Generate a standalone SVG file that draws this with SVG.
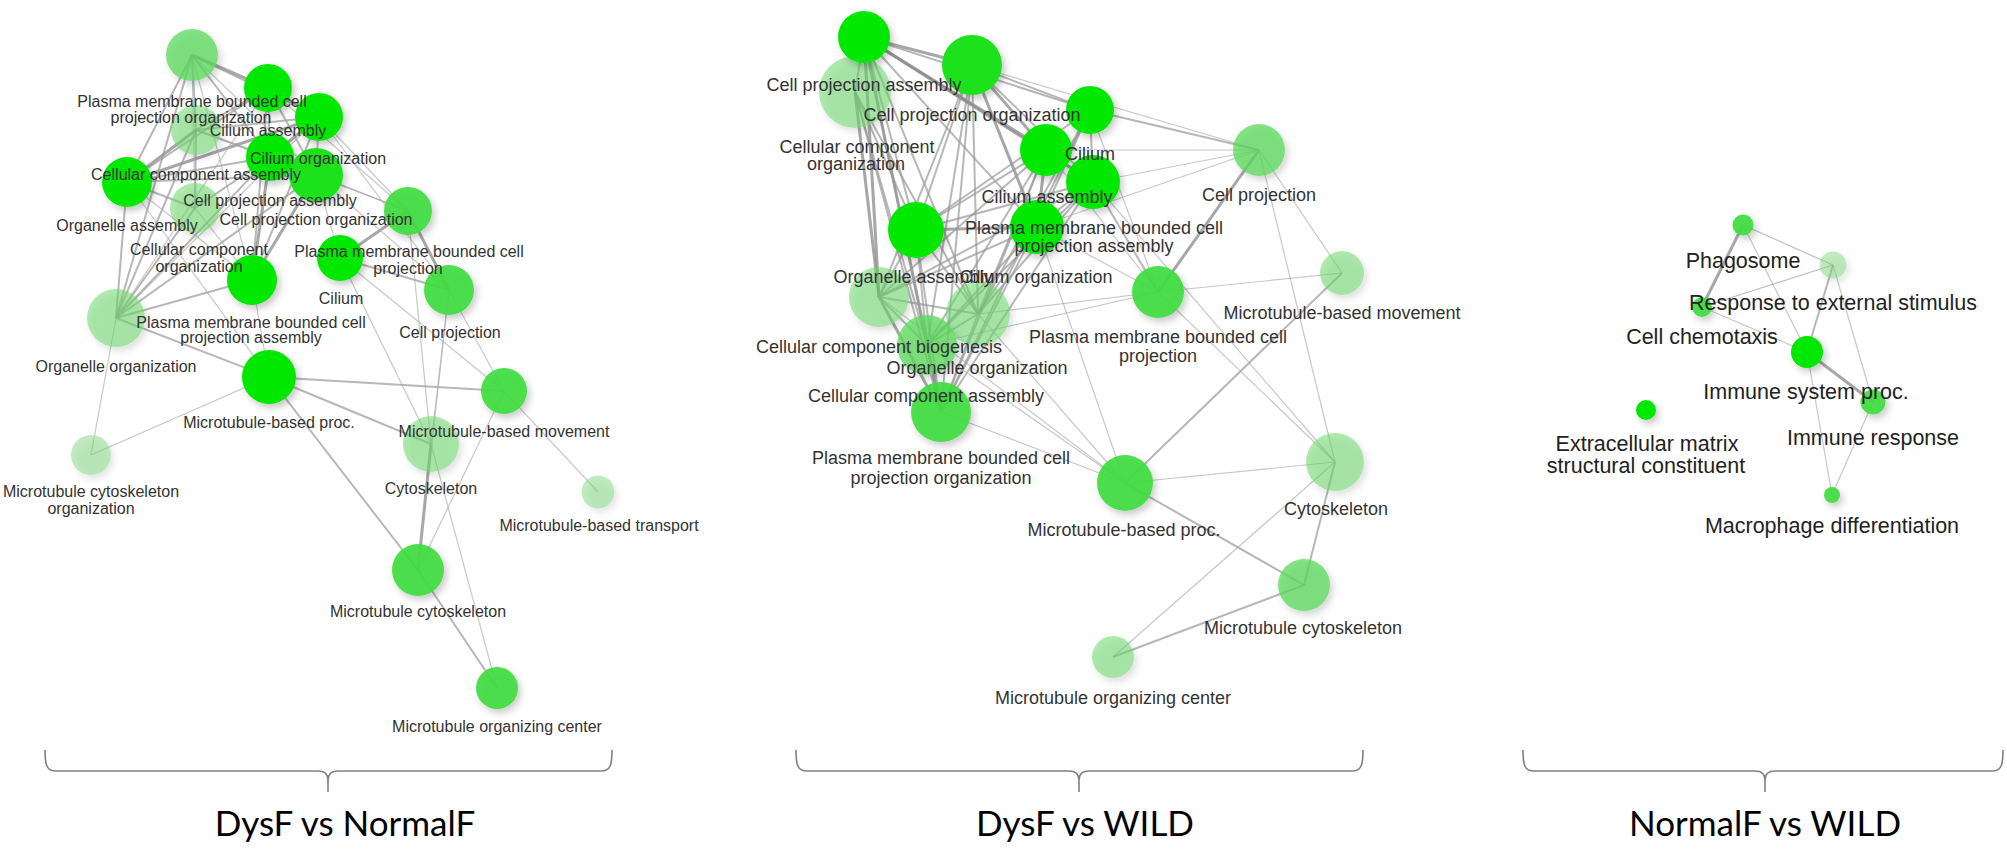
<svg xmlns="http://www.w3.org/2000/svg" width="2007" height="849" viewBox="0 0 2007 849">
<style>
.e1{stroke:#8a8a8a;stroke-width:3;stroke-opacity:.75;fill:none}
.e2{stroke:#999;stroke-width:2;stroke-opacity:.7;fill:none}
.e3{stroke:#aaa;stroke-width:1.2;stroke-opacity:.65;fill:none}
.c1{fill:#00e800}
.c2{fill:#1ee21e}
.c3{fill:#3fdc3f;fill-opacity:.92}
.c4{fill:#5cd95c;fill-opacity:.75}
.c5{fill:#6fd86f;fill-opacity:.55}
.c6{fill:#7ad87a;fill-opacity:.45}
.node circle{filter:url(#sh)}
.t{font-family:"Liberation Sans",Arial,sans-serif;fill:#333;text-anchor:middle}
.tl{font-size:16px}
.tm{font-size:18px}
.tr{font-size:21.5px;fill:#222}
.tb{font-family:Lato,"Liberation Sans",sans-serif;font-size:35px;fill:#000;text-anchor:middle}
.br{stroke:#808080;stroke-width:1.6;fill:none}
</style>
<defs>
<filter id="sh" x="-50%" y="-50%" width="200%" height="200%">
<feDropShadow dx="3" dy="4" stdDeviation="3.5" flood-color="#000" flood-opacity="0.22"/>
</filter>
</defs>
<rect width="2007" height="849" fill="#fff"/>

<g id="connectors">
<!-- left panel -->
<g id="edges-left">
<line class="e1" x1="192" y1="55" x2="268" y2="88"/>
<line class="e1" x1="268" y1="88" x2="319" y2="117"/>
<line class="e1" x1="319" y1="117" x2="270" y2="157"/>
<line class="e1" x1="270" y1="157" x2="316" y2="175"/>
<line class="e1" x1="196" y1="130" x2="127" y2="182"/>
<line class="e1" x1="319" y1="117" x2="127" y2="182"/>
<line class="e1" x1="270" y1="157" x2="252" y2="280"/>
<line class="e1" x1="316" y1="175" x2="252" y2="280"/>
<line class="e1" x1="408" y1="211" x2="340" y2="258"/>
<line class="e1" x1="408" y1="211" x2="449" y2="290"/>
<line class="e1" x1="431" y1="444" x2="418" y2="570"/>
<line class="e2" x1="192" y1="55" x2="319" y2="117"/>
<line class="e2" x1="192" y1="55" x2="196" y2="130"/>
<line class="e2" x1="192" y1="55" x2="270" y2="157"/>
<line class="e2" x1="192" y1="55" x2="127" y2="182"/>
<line class="e2" x1="192" y1="55" x2="116" y2="318"/>
<line class="e2" x1="268" y1="88" x2="270" y2="157"/>
<line class="e2" x1="268" y1="88" x2="316" y2="175"/>
<line class="e2" x1="268" y1="88" x2="196" y2="130"/>
<line class="e2" x1="268" y1="88" x2="127" y2="182"/>
<line class="e2" x1="268" y1="88" x2="252" y2="280"/>
<line class="e2" x1="319" y1="117" x2="316" y2="175"/>
<line class="e2" x1="319" y1="117" x2="196" y2="130"/>
<line class="e2" x1="319" y1="117" x2="252" y2="280"/>
<line class="e2" x1="196" y1="130" x2="195" y2="208"/>
<line class="e2" x1="196" y1="130" x2="270" y2="157"/>
<line class="e2" x1="196" y1="130" x2="116" y2="318"/>
<line class="e2" x1="270" y1="157" x2="127" y2="182"/>
<line class="e2" x1="270" y1="157" x2="195" y2="208"/>
<line class="e2" x1="316" y1="175" x2="127" y2="182"/>
<line class="e2" x1="127" y1="182" x2="195" y2="208"/>
<line class="e2" x1="127" y1="182" x2="116" y2="318"/>
<line class="e2" x1="195" y1="208" x2="116" y2="318"/>
<line class="e2" x1="270" y1="157" x2="116" y2="318"/>
<line class="e2" x1="316" y1="175" x2="116" y2="318"/>
<line class="e2" x1="252" y1="280" x2="116" y2="318"/>
<line class="e2" x1="116" y1="318" x2="269" y2="377"/>
<line class="e2" x1="269" y1="377" x2="504" y2="391"/>
<line class="e2" x1="269" y1="377" x2="431" y2="444"/>
<line class="e2" x1="269" y1="377" x2="418" y2="570"/>
<line class="e2" x1="340" y1="258" x2="449" y2="290"/>
<line class="e2" x1="418" y1="570" x2="497" y2="688"/>
<line class="e3" x1="192" y1="55" x2="316" y2="175"/>
<line class="e3" x1="192" y1="55" x2="195" y2="208"/>
<line class="e3" x1="192" y1="55" x2="252" y2="280"/>
<line class="e3" x1="319" y1="117" x2="408" y2="211"/>
<line class="e3" x1="316" y1="175" x2="408" y2="211"/>
<line class="e3" x1="316" y1="175" x2="340" y2="258"/>
<line class="e3" x1="195" y1="208" x2="252" y2="280"/>
<line class="e3" x1="268" y1="88" x2="116" y2="318"/>
<line class="e3" x1="319" y1="117" x2="116" y2="318"/>
<line class="e3" x1="127" y1="182" x2="269" y2="377"/>
<line class="e3" x1="116" y1="318" x2="91" y2="455"/>
<line class="e3" x1="269" y1="377" x2="91" y2="455"/>
<line class="e3" x1="269" y1="377" x2="252" y2="280"/>
<line class="e3" x1="340" y1="258" x2="431" y2="444"/>
<line class="e3" x1="340" y1="258" x2="504" y2="391"/>
<line class="e3" x1="408" y1="211" x2="431" y2="444"/>
<line class="e3" x1="449" y1="290" x2="504" y2="391"/>
<line class="e3" x1="449" y1="290" x2="431" y2="444"/>
<line class="e3" x1="449" y1="290" x2="418" y2="570"/>
<line class="e3" x1="504" y1="391" x2="418" y2="570"/>
<line class="e3" x1="504" y1="391" x2="598" y2="492"/>
<line class="e3" x1="431" y1="444" x2="497" y2="688"/>
<line class="e3" x1="316" y1="175" x2="449" y2="290"/>
<line class="e3" x1="270" y1="157" x2="408" y2="211"/>
<line class="e3" x1="196" y1="130" x2="408" y2="211"/>
<line class="e3" x1="127" y1="182" x2="252" y2="280"/>
<line class="e3" x1="268" y1="88" x2="408" y2="211"/>
<line class="e3" x1="319" y1="117" x2="449" y2="290"/>
</g>
<!-- middle panel -->
<g id="edges-middle">
<line class="e1" x1="864" y1="37" x2="1046" y2="150"/>
<line class="e1" x1="864" y1="37" x2="1093" y2="182"/>
<line class="e1" x1="864" y1="37" x2="972" y2="65"/>
<line class="e1" x1="972" y1="65" x2="1046" y2="150"/>
<line class="e1" x1="916" y1="230" x2="1037" y2="227"/>
<line class="e1" x1="879" y1="297" x2="941" y2="412"/>
<line class="e1" x1="864" y1="37" x2="941" y2="412"/>
<line class="e1" x1="855" y1="92" x2="879" y2="297"/>
<line class="e1" x1="864" y1="37" x2="879" y2="297"/>
<line class="e1" x1="972" y1="65" x2="1037" y2="227"/>
<line class="e1" x1="1046" y1="150" x2="1037" y2="227"/>
<line class="e1" x1="1158" y1="292" x2="1259" y2="150"/>
<line class="e2" x1="1090" y1="110" x2="1259" y2="150"/>
<line class="e2" x1="1093" y1="182" x2="1158" y2="292"/>
<line class="e2" x1="864" y1="37" x2="855" y2="92"/>
<line class="e2" x1="864" y1="37" x2="1090" y2="110"/>
<line class="e2" x1="864" y1="37" x2="916" y2="230"/>
<line class="e2" x1="864" y1="37" x2="1037" y2="227"/>
<line class="e2" x1="864" y1="37" x2="978" y2="314"/>
<line class="e2" x1="864" y1="37" x2="927" y2="345"/>
<line class="e2" x1="855" y1="92" x2="916" y2="230"/>
<line class="e2" x1="855" y1="92" x2="927" y2="345"/>
<line class="e2" x1="855" y1="92" x2="941" y2="412"/>
<line class="e2" x1="855" y1="92" x2="978" y2="314"/>
<line class="e2" x1="972" y1="65" x2="1090" y2="110"/>
<line class="e2" x1="972" y1="65" x2="1093" y2="182"/>
<line class="e2" x1="972" y1="65" x2="916" y2="230"/>
<line class="e2" x1="972" y1="65" x2="879" y2="297"/>
<line class="e2" x1="972" y1="65" x2="978" y2="314"/>
<line class="e2" x1="972" y1="65" x2="941" y2="412"/>
<line class="e2" x1="972" y1="65" x2="927" y2="345"/>
<line class="e2" x1="1090" y1="110" x2="1093" y2="182"/>
<line class="e2" x1="1090" y1="110" x2="1037" y2="227"/>
<line class="e2" x1="1090" y1="110" x2="916" y2="230"/>
<line class="e2" x1="1090" y1="110" x2="941" y2="412"/>
<line class="e2" x1="1090" y1="110" x2="978" y2="314"/>
<line class="e2" x1="1046" y1="150" x2="1093" y2="182"/>
<line class="e2" x1="1046" y1="150" x2="916" y2="230"/>
<line class="e2" x1="1046" y1="150" x2="879" y2="297"/>
<line class="e2" x1="1046" y1="150" x2="978" y2="314"/>
<line class="e2" x1="1046" y1="150" x2="927" y2="345"/>
<line class="e2" x1="1046" y1="150" x2="941" y2="412"/>
<line class="e2" x1="1093" y1="182" x2="916" y2="230"/>
<line class="e2" x1="1093" y1="182" x2="1037" y2="227"/>
<line class="e2" x1="1093" y1="182" x2="879" y2="297"/>
<line class="e2" x1="1093" y1="182" x2="978" y2="314"/>
<line class="e2" x1="1093" y1="182" x2="927" y2="345"/>
<line class="e2" x1="1093" y1="182" x2="941" y2="412"/>
<line class="e2" x1="916" y1="230" x2="879" y2="297"/>
<line class="e2" x1="916" y1="230" x2="978" y2="314"/>
<line class="e2" x1="916" y1="230" x2="927" y2="345"/>
<line class="e2" x1="916" y1="230" x2="941" y2="412"/>
<line class="e2" x1="1037" y1="227" x2="879" y2="297"/>
<line class="e2" x1="1037" y1="227" x2="978" y2="314"/>
<line class="e2" x1="1037" y1="227" x2="927" y2="345"/>
<line class="e2" x1="1037" y1="227" x2="941" y2="412"/>
<line class="e2" x1="879" y1="297" x2="978" y2="314"/>
<line class="e2" x1="879" y1="297" x2="927" y2="345"/>
<line class="e2" x1="978" y1="314" x2="927" y2="345"/>
<line class="e2" x1="978" y1="314" x2="941" y2="412"/>
<line class="e2" x1="927" y1="345" x2="941" y2="412"/>
<line class="e2" x1="1125" y1="483" x2="1342" y2="273"/>
<line class="e2" x1="1125" y1="483" x2="1304" y2="585"/>
<line class="e2" x1="1304" y1="585" x2="1335" y2="462"/>
<line class="e2" x1="1304" y1="585" x2="1113" y2="657"/>
<line class="e3" x1="972" y1="65" x2="1259" y2="150"/>
<line class="e3" x1="1037" y1="227" x2="1259" y2="150"/>
<line class="e3" x1="1046" y1="150" x2="1259" y2="150"/>
<line class="e3" x1="1093" y1="182" x2="1259" y2="150"/>
<line class="e3" x1="1158" y1="292" x2="1342" y2="273"/>
<line class="e3" x1="1259" y1="150" x2="1342" y2="273"/>
<line class="e3" x1="1259" y1="150" x2="1335" y2="462"/>
<line class="e3" x1="1158" y1="292" x2="1335" y2="462"/>
<line class="e3" x1="1093" y1="182" x2="1335" y2="462"/>
<line class="e3" x1="1125" y1="483" x2="1335" y2="462"/>
<line class="e3" x1="1113" y1="657" x2="1335" y2="462"/>
<line class="e3" x1="941" y1="412" x2="1125" y2="483"/>
<line class="e3" x1="978" y1="314" x2="1125" y2="483"/>
<line class="e3" x1="1037" y1="227" x2="1125" y2="483"/>
<line class="e3" x1="927" y1="345" x2="1125" y2="483"/>
<line class="e3" x1="879" y1="297" x2="1125" y2="483"/>
<line class="e3" x1="1037" y1="227" x2="1158" y2="292"/>
<line class="e3" x1="1046" y1="150" x2="1158" y2="292"/>
<line class="e3" x1="978" y1="314" x2="1158" y2="292"/>
<line class="e3" x1="927" y1="345" x2="1158" y2="292"/>
<line class="e3" x1="1090" y1="110" x2="1158" y2="292"/>
</g>
<!-- right panel -->
<g id="edges-right">
<line class="e1" x1="1743" y1="225" x2="1702" y2="307"/>
<line class="e1" x1="1807" y1="352" x2="1873" y2="402"/>
<line class="e2" x1="1833" y1="265" x2="1807" y2="352"/>
<line class="e3" x1="1833" y1="265" x2="1702" y2="307" style="stroke:#999"/>
<line class="e3" x1="1743" y1="225" x2="1833" y2="265" style="stroke:#999"/>
<line class="e3" x1="1743" y1="225" x2="1807" y2="352"/>
<line class="e3" x1="1702" y1="307" x2="1807" y2="352"/>
<line class="e3" x1="1833" y1="265" x2="1873" y2="402"/>
<line class="e3" x1="1807" y1="352" x2="1832" y2="495"/>
<line class="e3" x1="1873" y1="402" x2="1832" y2="495"/>
</g>
</g>

<g id="nodes">
<!-- left panel -->
<g id="node-pm-cell-proj-org-L" class="node"><circle cx="192" cy="55" r="26" class="c4"/></g>
<g id="node-cc-assembly-L" class="node"><circle cx="196" cy="130" r="25" class="c5"/></g>
<g id="node-cc-org-L" class="node"><circle cx="195" cy="208" r="25" class="c5"/></g>
<g id="node-organelle-org-L" class="node"><circle cx="116" cy="318" r="29" class="c5"/></g>
<g id="node-cytoskeleton-L" class="node"><circle cx="431" cy="444" r="28" class="c5"/></g>
<g id="node-mt-cytoskeleton-org-L" class="node"><circle cx="91" cy="455" r="20" class="c6"/></g>
<g id="node-mt-transport-L" class="node"><circle cx="598" cy="492" r="16.5" class="c6"/></g>
<g id="node-cilium-assembly-L" class="node"><circle cx="268" cy="88" r="24" class="c1"/></g>
<g id="node-cilium-org-L" class="node"><circle cx="319" cy="117" r="24" class="c1"/></g>
<g id="node-cell-proj-assembly-L" class="node"><circle cx="270" cy="157" r="24" class="c1"/></g>
<g id="node-cell-proj-org-L" class="node"><circle cx="316" cy="175" r="27" class="c2"/></g>
<g id="node-organelle-assembly-L" class="node"><circle cx="127" cy="182" r="25" class="c1"/></g>
<g id="node-pm-cell-proj-L" class="node"><circle cx="408" cy="211" r="24" class="c3"/></g>
<g id="node-cilium-L" class="node"><circle cx="340" cy="258" r="23" class="c1"/></g>
<g id="node-pm-cell-proj-assembly-L" class="node"><circle cx="252" cy="280" r="25" class="c1"/></g>
<g id="node-cell-proj-L" class="node"><circle cx="449" cy="290" r="25" class="c3"/></g>
<g id="node-mt-proc-L" class="node"><circle cx="269" cy="377" r="27" class="c1"/></g>
<g id="node-mt-movement-L" class="node"><circle cx="504" cy="391" r="23" class="c3"/></g>
<g id="node-mt-cytoskeleton-L" class="node"><circle cx="418" cy="570" r="26" class="c3"/></g>
<g id="node-mt-org-center-L" class="node"><circle cx="497" cy="688" r="21" class="c3"/></g>
<!-- middle panel -->
<g id="node-cc-org-M" class="node"><circle cx="855" cy="92" r="36" class="c5"/></g>
<g id="node-cc-biogenesis-M" class="node"><circle cx="879" cy="297" r="30" class="c5"/></g>
<g id="node-organelle-org-M" class="node"><circle cx="978" cy="314" r="32" class="c5"/></g>
<g id="node-cc-assembly-M" class="node"><circle cx="927" cy="345" r="30" class="c4"/></g>
<g id="node-mt-movement-M" class="node"><circle cx="1342" cy="273" r="22" class="c5"/></g>
<g id="node-cytoskeleton-M" class="node"><circle cx="1335" cy="462" r="29" class="c5"/></g>
<g id="node-mt-org-center-M" class="node"><circle cx="1113" cy="657" r="21" class="c5"/></g>
<g id="node-cell-proj-M" class="node"><circle cx="1259" cy="150" r="26" class="c4"/></g>
<g id="node-cell-proj-assembly-M" class="node"><circle cx="864" cy="37" r="26" class="c1"/></g>
<g id="node-cell-proj-org-M" class="node"><circle cx="972" cy="65" r="30" class="c2"/></g>
<g id="node-cilium-M" class="node"><circle cx="1090" cy="110" r="24" class="c1"/></g>
<g id="node-cilium-assembly-M" class="node"><circle cx="1046" cy="150" r="26" class="c1"/></g>
<g id="node-pm-cell-proj-assembly-M" class="node"><circle cx="1093" cy="182" r="27" class="c1"/></g>
<g id="node-organelle-assembly-M" class="node"><circle cx="916" cy="230" r="28" class="c1"/></g>
<g id="node-cilium-org-M" class="node"><circle cx="1037" cy="227" r="27" class="c1"/></g>
<g id="node-pm-cell-proj-org-M" class="node"><circle cx="941" cy="412" r="30" class="c3"/></g>
<g id="node-pm-cell-proj-M" class="node"><circle cx="1158" cy="292" r="26" class="c3"/></g>
<g id="node-mt-proc-M" class="node"><circle cx="1125" cy="483" r="28" class="c3"/></g>
<g id="node-mt-cytoskeleton-M" class="node"><circle cx="1304" cy="585" r="26" class="c4"/></g>
<!-- right panel -->
<g id="node-phagosome" class="node"><circle cx="1743" cy="225" r="10.5" class="c3"/></g>
<g id="node-resp-ext-stimulus" class="node"><circle cx="1833" cy="265" r="13.5" class="c6"/></g>
<g id="node-cell-chemotaxis" class="node"><circle cx="1702" cy="307" r="10" class="c3"/></g>
<g id="node-immune-system-proc" class="node"><circle cx="1807" cy="352" r="16" class="c1"/></g>
<g id="node-immune-response" class="node"><circle cx="1873" cy="402" r="12.5" class="c3"/></g>
<g id="node-ecm-struct" class="node"><circle cx="1646" cy="410" r="10" class="c1"/></g>
<g id="node-macrophage-diff" class="node"><circle cx="1832" cy="495" r="8" class="c3"/></g>
</g>

<g id="labels">
<g id="labels-left" class="t tl">
<text x="192" y="107">Plasma membrane bounded cell</text>
<text x="191" y="123">projection organization</text>
<text x="268" y="136">Cilium assembly</text>
<text x="318" y="164">Cilium organization</text>
<text x="196" y="180">Cellular component assembly</text>
<text x="270" y="206">Cell projection assembly</text>
<text x="316" y="225">Cell projection organization</text>
<text x="127" y="231">Organelle assembly</text>
<text x="199" y="255">Cellular component</text>
<text x="199" y="272">organization</text>
<text x="409" y="257">Plasma membrane bounded cell</text>
<text x="408" y="274">projection</text>
<text x="341" y="304">Cilium</text>
<text x="251" y="328">Plasma membrane bounded cell</text>
<text x="251" y="343">projection assembly</text>
<text x="450" y="338">Cell projection</text>
<text x="116" y="372">Organelle organization</text>
<text x="269" y="428">Microtubule-based proc.</text>
<text x="504" y="437">Microtubule-based movement</text>
<text x="431" y="494">Cytoskeleton</text>
<text x="91" y="497">Microtubule cytoskeleton</text>
<text x="91" y="514">organization</text>
<text x="599" y="531">Microtubule-based transport</text>
<text x="418" y="617">Microtubule cytoskeleton</text>
<text x="497" y="732">Microtubule organizing center</text>
</g>
<g id="labels-middle" class="t tm">
<text x="864" y="91">Cell projection assembly</text>
<text x="972" y="121">Cell projection organization</text>
<text x="857" y="153">Cellular component</text>
<text x="856" y="170">organization</text>
<text x="1090" y="160">Cilium</text>
<text x="1047" y="203">Cilium assembly</text>
<text x="1259" y="201">Cell projection</text>
<text x="1094" y="234">Plasma membrane bounded cell</text>
<text x="1094" y="252">projection assembly</text>
<text x="913" y="283">Organelle assembly</text>
<text x="1036" y="283">Cilium organization</text>
<text x="1342" y="319">Microtubule-based movement</text>
<text x="1158" y="343">Plasma membrane bounded cell</text>
<text x="1158" y="362">projection</text>
<text x="879" y="353">Cellular component biogenesis</text>
<text x="977" y="374">Organelle organization</text>
<text x="926" y="402">Cellular component assembly</text>
<text x="941" y="464">Plasma membrane bounded cell</text>
<text x="941" y="484">projection organization</text>
<text x="1336" y="515">Cytoskeleton</text>
<text x="1124" y="536">Microtubule-based proc.</text>
<text x="1303" y="634">Microtubule cytoskeleton</text>
<text x="1113" y="704">Microtubule organizing center</text>
</g>
<g id="labels-right" class="t tr">
<text x="1743" y="268">Phagosome</text>
<text x="1833" y="310">Response to external stimulus</text>
<text x="1702" y="344">Cell chemotaxis</text>
<text x="1806" y="399">Immune system proc.</text>
<text x="1873" y="445">Immune response</text>
<text x="1647" y="451">Extracellular matrix</text>
<text x="1646" y="473">structural constituent</text>
<text x="1832" y="533">Macrophage differentiation</text>
</g>
</g>

<g id="brackets">
<path class="br" d="M45,750 C45,766 47,771 56,771 L318,771 C325,771 328,774 328,780 L328,792 M328,780 C328,774 331,771 338,771 L601,771 C610,771 612,766 612,750"/>
<path class="br" d="M796,750 C796,766 798,771 807,771 L1069,771 C1076,771 1079,774 1079,780 L1079,792 M1079,780 C1079,774 1082,771 1089,771 L1352,771 C1361,771 1363,766 1363,750"/>
<path class="br" d="M1523,750 C1523,766 1525,771 1534,771 L1755,771 C1762,771 1765,774 1765,780 L1765,792 M1765,780 C1765,774 1768,771 1775,771 L1992,771 C2001,771 2003,766 2003,750"/>
</g>
<g id="panel-titles" class="tb">
<text x="345" y="836">DysF vs NormalF</text>
<text x="1085" y="836">DysF vs WILD</text>
<text x="1765" y="836">NormalF vs WILD</text>
</g>
</svg>
